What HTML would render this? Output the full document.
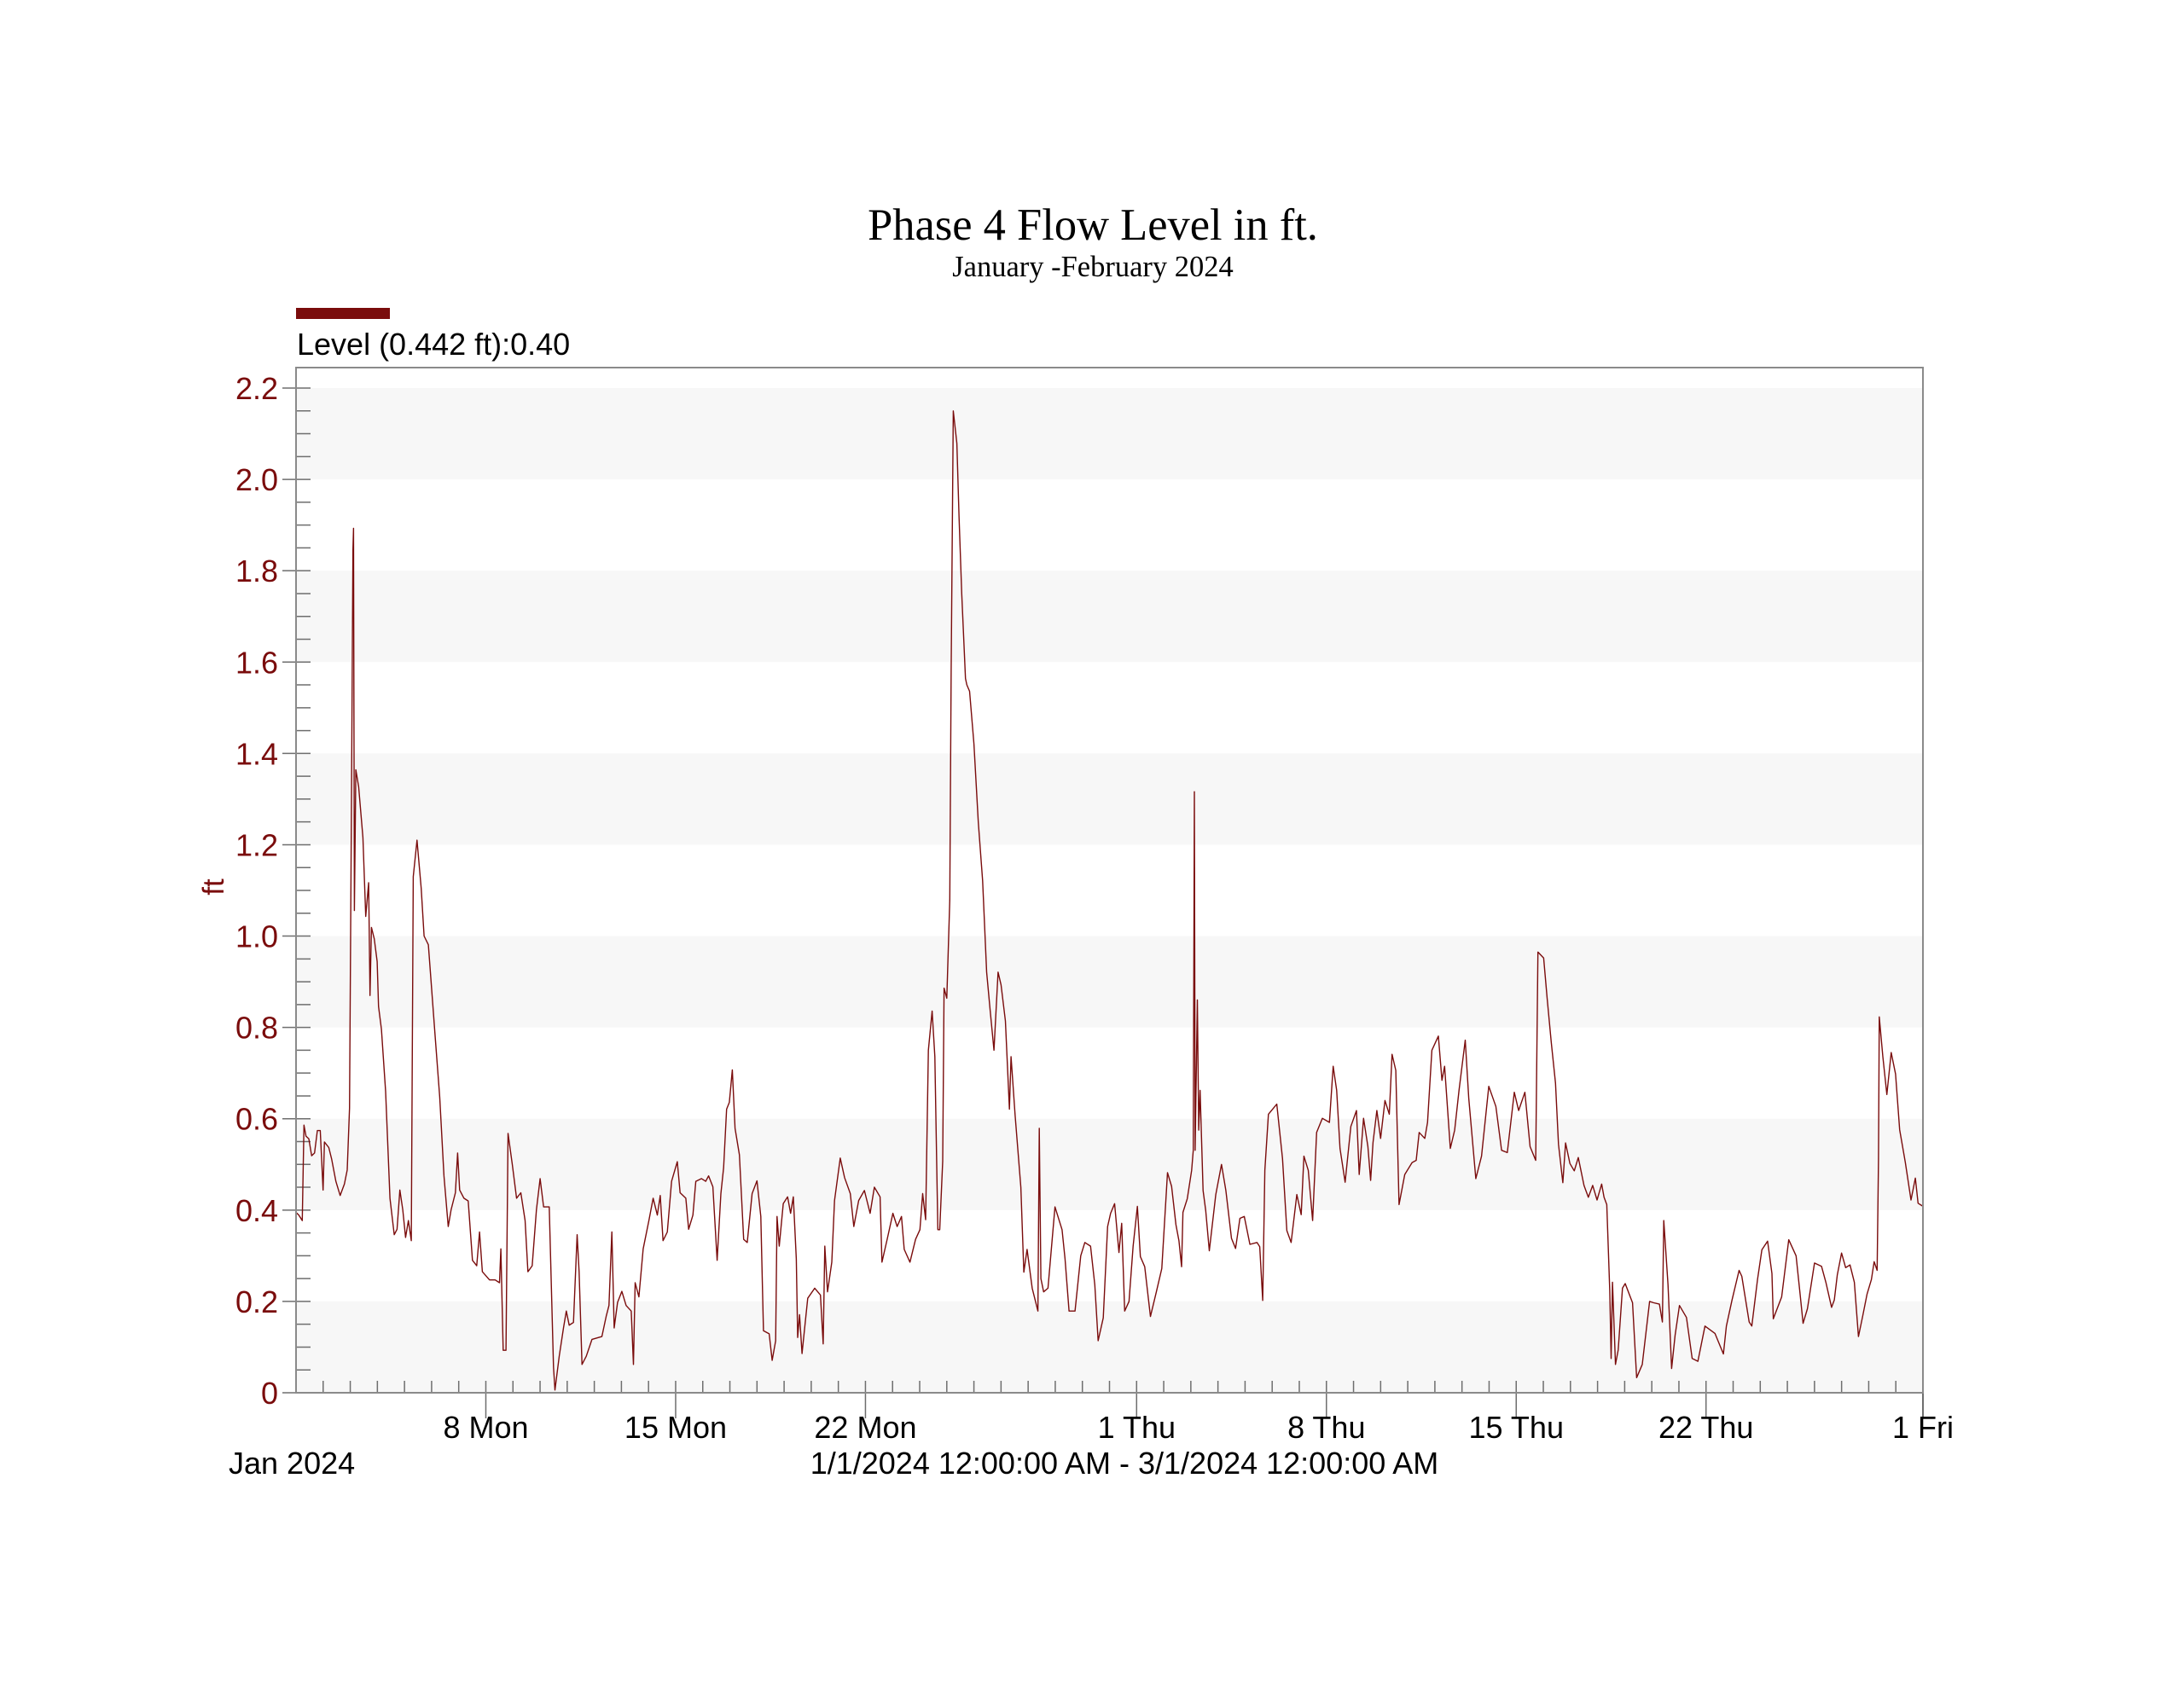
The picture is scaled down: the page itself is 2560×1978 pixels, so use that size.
<!DOCTYPE html>
<html>
<head>
<meta charset="utf-8">
<style>
html,body{margin:0;padding:0;background:#fff;}
svg{display:block;}
.sans{font-family:"Liberation Sans",Arial,sans-serif;}
.serif{font-family:"Liberation Serif","Times New Roman",serif;}
</style>
</head>
<body>
<svg id="chart" width="2560" height="1978" viewBox="0 0 2560 1978" xmlns="http://www.w3.org/2000/svg">
  <rect x="0" y="0" width="2560" height="1978" fill="#ffffff"/>
  <text class="serif" x="1281" y="281" font-size="52.5" text-anchor="middle" fill="#000">Phase 4 Flow Level in ft.</text>
  <text class="serif" x="1281" y="324" font-size="34.5" text-anchor="middle" fill="#000">January -February 2024</text>
  <rect x="347" y="361" width="110" height="13" fill="#7a0c0c"/>
  <text class="sans" x="348" y="416" font-size="36" fill="#000">Level (0.442 ft):0.40</text>
  <g id="bands"></g>
  <g id="yaxis"></g>
  <g id="xaxis"></g>
  <g id="series"></g>
  <rect x="347" y="431" width="1907" height="1202" fill="none" stroke="#8a8a8a" stroke-width="2"/>
  <text class="sans" x="0" y="0" font-size="35" fill="#7a0c0c" text-anchor="middle" transform="translate(262,1040) rotate(-90)">ft</text>
  <text class="sans" x="268" y="1728" font-size="36" fill="#000">Jan 2024</text>
  <text class="sans" x="1318" y="1728" font-size="36" fill="#000" text-anchor="middle">1/1/2024 12:00:00 AM - 3/1/2024 12:00:00 AM</text>
</svg>
<script>
// ---- data ----
const yTickValues = [0, 0.2, 0.4, 0.6, 0.8, 1.0, 1.2, 1.4, 1.6, 1.8, 2.0, 2.2];
const yTickLabels = ["0", "0.2", "0.4", "0.6", "0.8", "1.0", "1.2", "1.4", "1.6", "1.8", "2.0", "2.2"];
const xTickDays = [7, 14, 21, 31, 38, 45, 52, 60];
const xTickLabels = ["8 Mon", "15 Mon", "22 Mon", "1 Thu", "8 Thu", "15 Thu", "22 Thu", "1 Fri"];
const levelDays = [0,0.105,0.231,0.294,0.367,0.472,0.577,0.682,0.787,0.892,0.997,1.049,1.207,1.312,1.469,1.626,1.784,1.889,1.973,2.046,2.099,2.12,2.151,2.204,2.308,2.466,2.571,2.676,2.728,2.781,2.886,2.991,3.043,3.148,3.305,3.463,3.62,3.725,3.83,3.935,4.04,4.145,4.25,4.323,4.46,4.617,4.722,4.879,5.142,5.299,5.456,5.614,5.719,5.876,5.96,6.034,6.191,6.348,6.506,6.663,6.768,6.873,7.135,7.345,7.503,7.555,7.639,7.744,7.817,7.975,8.132,8.29,8.447,8.552,8.709,8.867,9.003,9.129,9.339,9.496,9.549,9.706,9.864,9.969,10.073,10.231,10.367,10.441,10.546,10.703,10.913,11.28,11.438,11.542,11.647,11.731,11.857,12.015,12.172,12.361,12.445,12.508,12.644,12.802,13.012,13.169,13.326,13.431,13.536,13.694,13.851,14.061,14.166,14.376,14.48,14.638,14.743,14.953,15.11,15.215,15.373,15.53,
15.67,15.77,15.88,15.98,16.09,16.19,16.35,16.51,16.64,16.82,17.0,17.14,17.24,17.45,17.56,17.69,17.74,17.82,17.97,18.13,18.24,18.34,18.45,18.5,18.57,18.66,18.87,19.13,19.34,19.44,19.5,19.6,19.76,19.86,20.07,20.23,20.44,20.57,20.75,20.96,21.17,21.33,21.54,21.61,21.8,22.01,22.17,22.33,22.43,22.64,22.85,23.01,23.11,23.22,23.32,23.46,23.56,23.67,23.74,23.85,23.9,24.0,24.11,24.16,24.24,24.37,24.45,24.55,24.69,24.74,24.84,25.0,25.16,25.32,25.47,25.6,25.74,25.89,26.0,26.16,26.31,26.37,26.52,26.73,26.84,26.96,27.15,27.36,27.41,27.47,27.57,27.73,27.99,28.25,28.36,28.51,28.73,28.94,29.09,29.3,29.46,29.58,29.77,29.93,30.04,30.19,30.35,30.45,30.56,30.72,30.87,
31.03,31.14,31.30,31.51,31.72,31.93,32.14,32.29,32.45,32.56,32.66,32.71,32.87,33.03,33.09,33.13,33.16,33.24,33.29,33.34,33.45,33.55,33.68,33.92,34.13,34.29,34.5,34.65,34.81,34.97,35.18,35.44,35.54,35.65,35.73,35.86,36.17,36.38,36.54,36.7,36.91,37.07,37.17,37.33,37.49,37.64,37.85,38.11,38.25,38.38,38.5,38.69,38.9,39.11,39.21,39.37,39.53,39.63,39.72,39.86,40.0,40.16,40.32,40.42,40.56,40.68,40.89,41.16,41.31,41.42,41.63,41.73,41.89,42.13,42.26,42.36,42.57,42.73,42.89,43.12,43.25,43.51,43.72,43.99,44.25,44.46,44.67,44.93,45.09,45.32,45.51,45.72,45.8,46.01,46.14,46.29,
46.45,46.56,46.72,46.82,46.98,47.14,47.29,47.5,47.66,47.82,47.98,48.15,48.24,48.34,48.45,48.5,48.55,48.66,48.76,48.92,49.02,49.29,49.44,49.65,49.92,50.07,50.28,50.39,50.44,50.6,50.73,50.86,51.02,51.28,51.49,51.7,51.96,52.33,52.64,52.75,52.96,53.22,53.32,53.59,53.69,53.9,54.06,54.27,54.43,54.48,54.79,55.05,55.32,55.47,55.58,55.74,56.0,56.26,56.42,56.63,56.73,56.84,57.0,57.15,57.31,57.47,57.62,57.78,57.94,58.1,58.2,58.31,58.36,58.39,58.52,58.67,58.83,58.99,59.14,59.35,59.56,59.72,59.82,59.98];
const levelValues = [0.395,0.389,0.377,0.586,0.562,0.556,0.519,0.525,0.574,0.574,0.444,0.549,0.537,0.512,0.463,0.432,0.457,0.488,0.623,1.302,1.846,1.893,1.056,1.364,1.327,1.216,1.043,1.117,0.870,1.019,0.994,0.944,0.846,0.796,0.660,0.426,0.346,0.358,0.444,0.401,0.340,0.377,0.333,1.130,1.210,1.105,1.0,0.981,0.772,0.648,0.475,0.364,0.401,0.438,0.525,0.444,0.426,0.420,0.290,0.278,0.352,0.265,0.247,0.247,0.241,0.315,0.093,0.093,0.568,0.5,0.426,0.438,0.377,0.265,0.278,0.401,0.469,0.407,0.407,0.056,0.006,0.080,0.142,0.179,0.148,0.154,0.346,0.265,0.062,0.080,0.117,0.123,0.167,0.191,0.352,0.142,0.198,0.222,0.191,0.179,0.062,0.241,0.210,0.315,0.377,0.426,0.389,0.432,0.333,0.352,0.463,0.506,0.438,0.426,0.358,0.389,0.463,0.469,0.463,0.475,0.451,0.290,
0.436,0.493,0.621,0.636,0.707,0.579,0.521,0.336,0.329,0.436,0.464,0.386,0.136,0.129,0.071,0.114,0.386,0.321,0.414,0.429,0.393,0.429,0.293,0.121,0.171,0.086,0.207,0.229,0.214,0.107,0.321,0.221,0.286,0.421,0.514,0.471,0.436,0.364,0.421,0.443,0.393,0.45,0.429,0.286,0.336,0.393,0.364,0.386,0.314,0.286,0.336,0.357,0.436,0.379,0.75,0.836,0.736,0.357,0.357,0.507,0.886,0.864,1.079,1.579,2.15,2.079,1.921,1.75,1.564,1.55,1.536,1.421,1.25,1.121,0.921,0.836,0.75,0.921,0.893,0.814,0.621,0.736,0.607,0.45,0.264,0.314,0.229,0.179,0.579,0.25,0.221,0.229,0.407,0.357,0.293,0.179,0.179,0.3,0.329,0.321,0.236,0.114,0.164,0.364,0.393,0.414,0.307,0.371,0.179,0.2,0.321,
0.408,0.298,0.276,0.167,0.219,0.272,0.482,0.452,0.368,0.333,0.276,0.395,0.425,0.487,0.531,1.316,0.531,0.86,0.575,0.662,0.443,0.399,0.311,0.434,0.5,0.443,0.338,0.316,0.382,0.386,0.325,0.329,0.32,0.202,0.487,0.61,0.632,0.513,0.355,0.329,0.434,0.39,0.518,0.487,0.377,0.57,0.601,0.592,0.715,0.662,0.535,0.461,0.583,0.618,0.478,0.601,0.539,0.465,0.548,0.618,0.557,0.64,0.61,0.741,0.706,0.412,0.478,0.504,0.509,0.57,0.557,0.592,0.75,0.781,0.684,0.715,0.535,0.575,0.662,0.772,0.645,0.469,0.518,0.671,0.627,0.531,0.526,0.658,0.618,0.658,0.539,0.509,0.965,0.952,0.864,0.768,
0.678,0.544,0.46,0.547,0.502,0.486,0.515,0.454,0.428,0.454,0.422,0.457,0.428,0.412,0.223,0.075,0.242,0.062,0.094,0.229,0.239,0.197,0.033,0.062,0.2,0.197,0.194,0.155,0.377,0.236,0.053,0.126,0.191,0.165,0.075,0.069,0.146,0.13,0.085,0.146,0.203,0.268,0.255,0.155,0.146,0.248,0.313,0.332,0.261,0.162,0.21,0.335,0.3,0.216,0.152,0.184,0.284,0.277,0.242,0.187,0.203,0.258,0.306,0.274,0.28,0.242,0.123,0.168,0.216,0.248,0.287,0.268,0.512,0.823,0.736,0.653,0.745,0.698,0.576,0.505,0.422,0.47,0.415,0.409];

// ---- axes ----
const PL = 347, PR = 2254, PT = 431, PB = 1633;
const DAYS = 60, YMAX = 2.2;
const YTOP = 455;
function xScale(d) { return PL + d / DAYS * (PR - PL); }
function yScale(v) { return PB - v / YMAX * (PB - YTOP); }
const NS = "http://www.w3.org/2000/svg";
function mk(tag, parent) { const e = document.createElementNS(NS, tag); parent.appendChild(e); return e; }

const bands = document.getElementById('bands');
for (let i = 0; i < yTickValues.length - 1; i += 2) {
  const r = mk('rect', bands);
  
  
  const y1 = yScale(yTickValues[i + 1]), y0 = yScale(yTickValues[i]);
  r.setAttribute('x', PL); r.setAttribute('y', y1);
  r.setAttribute('width', PR - PL); r.setAttribute('height', y0 - y1);
  r.setAttribute('fill', '#f7f7f7');
}

const yaxis = document.getElementById('yaxis');
for (let k = 0; k <= 44; k++) {
  const v = k * 0.05;
  const y = yScale(v);
  const major = (k % 4 === 0);
  const t = mk('line', yaxis);
  
  
  t.setAttribute('x1', major ? 331 : PL); t.setAttribute('x2', 364);
  t.setAttribute('y1', y); t.setAttribute('y2', y);
  t.setAttribute('stroke', '#6e6e6e'); t.setAttribute('stroke-width', '1.5');
}
yTickValues.forEach((v, i) => {
  const tx = mk('text', yaxis);
  
  
  tx.setAttribute('x', 326); tx.setAttribute('y', yScale(v) + 13);
  tx.setAttribute('text-anchor', 'end');
  tx.setAttribute('class', 'sans');
  tx.setAttribute('font-size', '36');
  tx.setAttribute('fill', '#7a0c0c');
  tx.textContent = yTickLabels[i];
});

const xaxis = document.getElementById('xaxis');
for (let d = 1; d < DAYS; d++) {
  const x = xScale(d);
  const major = xTickDays.indexOf(d) >= 0;
  const t = mk('line', xaxis);
  
  
  t.setAttribute('x1', x); t.setAttribute('x2', x);
  t.setAttribute('y1', PB - 14); t.setAttribute('y2', major ? PB + 30 : PB);
  t.setAttribute('stroke', '#6e6e6e'); t.setAttribute('stroke-width', '1.5');
}
{
  const t = mk('line', xaxis);
  
  
  t.setAttribute('x1', PR); t.setAttribute('x2', PR);
  t.setAttribute('y1', PB); t.setAttribute('y2', PB + 30);
  t.setAttribute('stroke', '#6e6e6e'); t.setAttribute('stroke-width', '2');
}
xTickDays.forEach((d, i) => {
  const tx = mk('text', xaxis);
  
  
  tx.setAttribute('x', xScale(d)); tx.setAttribute('y', 1686);
  tx.setAttribute('text-anchor', 'middle');
  tx.setAttribute('class', 'sans');
  tx.setAttribute('font-size', '36');
  tx.setAttribute('fill', '#000');
  tx.textContent = xTickLabels[i];
});

const series = document.getElementById('series');
const path = mk('path', series);


let dstr = '';
levelDays.forEach((d, i) => {
  dstr += (i ? 'L' : 'M') + xScale(d).toFixed(1) + ' ' + yScale(levelValues[i]).toFixed(1);
});
path.setAttribute('d', dstr);
path.setAttribute('fill', 'none');
path.setAttribute('stroke', '#7a0c0c');
path.setAttribute('stroke-width', '1.4');
path.setAttribute('stroke-linejoin', 'round');
</script>
</body>
</html>
